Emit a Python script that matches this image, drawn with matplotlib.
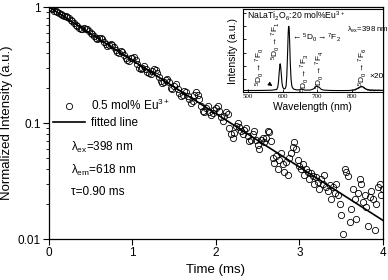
import matplotlib
matplotlib.use("Agg")
import matplotlib.pyplot as plt
from matplotlib.ticker import FixedLocator, NullFormatter, LogLocator

plt.rcParams['font.family'] = ['Liberation Sans', 'DejaVu Sans']
plt.rcParams['mathtext.default'] = 'regular'

# decay curve, time in ms
time_ms = [
    0.00, 0.02, 0.04, 0.06, 0.08, 0.10, 0.12, 0.14, 0.16, 0.18,
    0.20, 0.22, 0.24, 0.26, 0.28, 0.30, 0.32, 0.34, 0.36, 0.38,
    0.40, 0.42, 0.44, 0.46, 0.48, 0.50, 0.52, 0.54, 0.56, 0.58,
    0.60, 0.62, 0.64, 0.66, 0.68, 0.70, 0.72, 0.74, 0.76, 0.78,
    0.80, 0.82, 0.84, 0.86, 0.88, 0.90, 0.92, 0.94, 0.96, 0.98,
    1.00, 1.02, 1.04, 1.06, 1.08, 1.10, 1.12, 1.14, 1.16, 1.18,
    1.20, 1.22, 1.24, 1.26, 1.28, 1.30, 1.32, 1.34, 1.36, 1.38,
    1.40, 1.42, 1.44, 1.46, 1.48, 1.50, 1.52, 1.54, 1.56, 1.58,
    1.60, 1.62, 1.64, 1.66, 1.68, 1.70, 1.72, 1.74, 1.76, 1.78,
    1.80, 1.82, 1.84, 1.86, 1.88, 1.90, 1.92, 1.94, 1.96, 1.98,
    2.00, 2.02, 2.04, 2.06, 2.08, 2.10, 2.12, 2.14, 2.16, 2.18,
    2.20, 2.22, 2.24, 2.26, 2.28, 2.30, 2.32, 2.34, 2.36, 2.38,
    2.40, 2.42, 2.44, 2.46, 2.48, 2.50, 2.52, 2.54, 2.56, 2.58,
    2.60, 2.62, 2.64, 2.66, 2.68, 2.70, 2.72, 2.74, 2.76, 2.78,
    2.80, 2.82, 2.84, 2.86, 2.88, 2.90, 2.92, 2.94, 2.96, 2.98,
    3.00, 3.02, 3.04, 3.06, 3.08, 3.10, 3.12, 3.14, 3.16, 3.18,
    3.20, 3.22, 3.24, 3.26, 3.28, 3.30, 3.32, 3.34, 3.36, 3.38,
    3.40, 3.42, 3.44, 3.46, 3.48, 3.50, 3.52, 3.54, 3.56, 3.58,
    3.60, 3.62, 3.64, 3.66, 3.68, 3.70, 3.72, 3.74, 3.76, 3.78,
    3.80, 3.82, 3.84, 3.86, 3.88, 3.90, 3.92, 3.94, 3.96, 3.98,
    4.00]

intensity = [
    1.00, 0.985, 0.965, 0.930, 0.925, 0.905, 0.890, 0.870, 0.850, 0.835,
    0.830, 0.815, 0.800, 0.780, 0.755, 0.730, 0.700, 0.680, 0.660, 0.650,
    0.640, 0.655, 0.650, 0.640, 0.620, 0.600, 0.580, 0.560, 0.545, 0.530,
    0.545, 0.540, 0.525, 0.500, 0.480, 0.465, 0.470, 0.480, 0.470, 0.450,
    0.425, 0.410, 0.400, 0.415, 0.410, 0.385, 0.360, 0.350, 0.345, 0.360,
    0.365, 0.370, 0.350, 0.320, 0.300, 0.295, 0.300, 0.310, 0.290, 0.275,
    0.270, 0.265, 0.280, 0.290, 0.285, 0.270, 0.250, 0.230, 0.220, 0.225,
    0.235, 0.240, 0.225, 0.200, 0.195, 0.210, 0.215, 0.195, 0.180, 0.170,
    0.175, 0.190, 0.185, 0.170, 0.160, 0.150, 0.155, 0.175, 0.185, 0.175,
    0.160, 0.140, 0.128, 0.125, 0.135, 0.140, 0.125, 0.118, 0.122, 0.130,
    0.135, 0.140, 0.128, 0.112, 0.105, 0.115, 0.125, 0.120, 0.090, 0.080,
    0.075, 0.082, 0.095, 0.100, 0.092, 0.085, 0.080, 0.088, 0.090, 0.078,
    0.070, 0.072, 0.080, 0.085, 0.072, 0.065, 0.060, 0.072, 0.075, 0.068,
    0.075, 0.085, 0.083, 0.070, 0.050, 0.045, 0.052, 0.040, 0.048, 0.055,
    0.044, 0.038, 0.046, 0.036, 0.050, 0.055, 0.062, 0.068, 0.060, 0.048,
    0.043, 0.040, 0.044, 0.036, 0.040, 0.038, 0.033, 0.037, 0.035, 0.030,
    0.034, 0.031, 0.027, 0.033, 0.030, 0.036, 0.028, 0.026, 0.029, 0.022,
    0.028, 0.025, 0.030, 0.024, 0.020, 0.016, 0.011, 0.040, 0.038, 0.035,
    0.014, 0.018, 0.027, 0.022, 0.015, 0.025, 0.033, 0.030, 0.021, 0.024,
    0.019, 0.013, 0.023, 0.026, 0.022, 0.012, 0.020, 0.028, 0.030, 0.024,
    0.027]

# single exponential fit (tau = 0.90 ms), end points
fit_t = [0.0, 4.0]
fit_i = [1.0, 0.0145]

# inset: emission spectrum, lambda_ex = 398 nm
wavelength = [
    487, 500, 520, 540, 560, 570, 575, 578, 580, 583, 586, 588, 590, 592, 593,
    594, 596, 598, 600, 602, 604, 606, 608, 610, 612, 614, 616, 617, 618, 619,
    620, 622, 624, 626, 628, 632, 640, 648, 652, 655, 658, 665, 680, 690, 695,
    698, 700, 703, 705, 708, 712, 720, 740, 760, 780, 795,
    800, 802, 804, 806, 808, 810, 812, 814, 816, 818, 820, 822, 824, 826, 828,
    830, 832, 834, 836, 838, 840, 842, 844, 846, 848, 850, 852, 854, 856, 858,
    860, 862, 864, 866, 868, 870, 872, 874, 876, 878, 880, 882, 884, 886, 888,
    890]
spectrum = [
    0.025, 0.025, 0.025, 0.026, 0.028, 0.030, 0.034, 0.040, 0.036, 0.040, 0.080,
    0.160, 0.300, 0.420, 0.430,
    0.400, 0.280, 0.140, 0.080, 0.060, 0.050, 0.050, 0.060, 0.100, 0.250, 0.550,
    0.900, 0.990, 1.000, 0.950,
    0.800, 0.450, 0.220, 0.110, 0.070, 0.045, 0.035, 0.034, 0.045, 0.050, 0.040,
    0.030, 0.032, 0.050, 0.080,
    0.095, 0.090, 0.075, 0.080, 0.060, 0.040, 0.030, 0.025, 0.024, 0.024, 0.025,
    0.030, 0.022, 0.035, 0.028, 0.040, 0.032, 0.050, 0.042, 0.060, 0.052, 0.072,
    0.065, 0.085, 0.075, 0.090,
    0.078, 0.085, 0.065, 0.070, 0.050, 0.055, 0.038, 0.045, 0.030, 0.040, 0.025,
    0.038, 0.024, 0.036, 0.022,
    0.035, 0.024, 0.034, 0.020, 0.033, 0.024, 0.032, 0.022, 0.034, 0.024, 0.032,
    0.022, 0.030, 0.024, 0.030,
    0.025]

fig = plt.figure(figsize=(3.88, 2.80), dpi=100)
ax = fig.add_axes([0.126, 0.146, 0.861, 0.829])

ax.plot(time_ms, intensity, 'o', mfc='none', mec='black', ms=4.5, mew=0.6,
        label=r'0.5 mol% Eu$^{3+}$')
ax.plot(fit_t, fit_i, '-', color='black', lw=1.2, label='fitted line')

ax.set_yscale('log')
ax.set_xlim(0, 4)
ax.set_ylim(0.01, 1)
ax.set_xticks([0, 1, 2, 3, 4])
ax.set_yticks([0.01, 0.1, 1])
ax.set_yticklabels(['0.01', '0.1', '1'])
ax.yaxis.set_minor_locator(LogLocator(base=10, subs=range(2, 10)))
ax.yaxis.set_minor_formatter(NullFormatter())
ax.tick_params(which='major', direction='out', length=4, width=0.8, labelsize=8.5, pad=2)
ax.tick_params(which='minor', direction='out', length=2.5, width=0.6)
for s in ax.spines.values():
    s.set_linewidth(0.9)

ax.set_xlabel('Time (ms)', fontsize=9.5, labelpad=3)
ax.set_ylabel('Normalized Intensity (a.u.)', fontsize=9.5, labelpad=3)

ax.legend(loc='upper left', bbox_to_anchor=(0.012, 0.61), frameon=False,
          fontsize=8.5, handlelength=2.7, handletextpad=0.5, labelspacing=0.4,
          borderpad=0, borderaxespad=0)

ax.text(0.066, 0.397, r'$\lambda_{ex}$=398 nm', transform=ax.transAxes,
        fontsize=8.5, va='center')
ax.text(0.066, 0.297, r'$\lambda_{em}$=618 nm', transform=ax.transAxes,
        fontsize=8.5, va='center')
ax.text(0.066, 0.203, 'τ=0.90 ms', transform=ax.transAxes,
        fontsize=8.5, va='center')

# inset
ins = fig.add_axes([0.626, 0.671, 0.361, 0.296])
ins.plot(wavelength, spectrum, color='black', lw=0.8)
ins.set_xlim(485, 890)
ins.set_ylim(0, 1.26)
ins.set_xticks([500, 600, 700, 800])
ins.set_xticklabels(['500', '600', '700', '800'], family='Liberation Serif', fontsize=5)
ins.yaxis.set_major_locator(FixedLocator([0.2, 0.4, 0.6, 0.8, 1.0, 1.2]))
ins.set_yticklabels([])
ins.tick_params(direction='in', length=2, width=0.6, pad=1.5)
for s in ins.spines.values():
    s.set_linewidth(0.8)
ins.set_xlabel('Wavelength (nm)', fontsize=7.5, labelpad=2)
ins.set_ylabel('Intensity (a.u.)', fontsize=7.5, labelpad=2)

ins.text(0.03, 0.91, r'NaLaTi$_2$O$_6$:20 mol%Eu$^{3+}$', transform=ins.transAxes,
         fontsize=6.2, va='center')
ins.text(0.745, 0.75, r'$\lambda_{ex}$=398 nm', transform=ins.transAxes,
         fontsize=5.6, va='center')
ins.text(624, 0.82, r'$\leftarrow{}^5D_0\rightarrow{}^7F_2$', fontsize=6, va='center')
ins.text(534, 0.39, r'${}^5D_0\rightarrow{}^7F_0$', fontsize=6, rotation=90,
         ha='center', va='center')
ins.text(580, 0.78, r'${}^5D_0\rightarrow{}^7F_1$', fontsize=6, rotation=90,
         ha='center', va='center')
ins.text(663, 0.30, r'${}^5D_0\rightarrow{}^7F_3$', fontsize=6, rotation=90,
         ha='center', va='center')
ins.text(706, 0.345, r'${}^5D_0\rightarrow{}^7F_4$', fontsize=6, rotation=90,
         ha='center', va='center')
ins.text(832, 0.39, r'${}^5D_0\rightarrow{}^7F_6$', fontsize=6, rotation=90,
         ha='center', va='center')
ins.text(851, 0.24, '×20', fontsize=6, va='center')
ins.annotate('', xy=(577, 0.07), xytext=(560, 0.13),
             arrowprops=dict(arrowstyle='-|>', color='black', lw=0.6,
                             mutation_scale=6))

fig.savefig('out.png', dpi=100)
